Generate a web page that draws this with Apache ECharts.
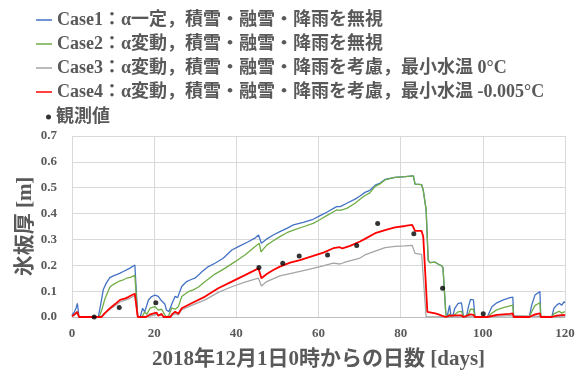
<!DOCTYPE html>
<html>
<head>
<meta charset="utf-8">
<script src="https://cdn.jsdelivr.net/npm/echarts@6/dist/echarts.min.js"></script>
<style>
  html, body { margin: 0; padding: 0; background: #fff; }
  #chart { width: 582px; height: 371px; }
</style>
</head>
<body>
<div id="chart"></div>
<script>
// Series names shown in the legend
const seriesNames = [
  'Case1：α一定，積雪・融雪・降雨を無視',
  'Case2：α変動，積雪・融雪・降雨を無視',
  'Case3：α変動，積雪・融雪・降雨を考慮，最小水温 0°C',
  'Case4：α変動，積雪・融雪・降雨を考慮，最小水温 -0.005°C'
];
const obsName = '観測値';

// Ice thickness [m] against elapsed days, one [day, value] list per case
const case1 = [
  [0,0.008],[0.6,0.02],[1.0,0.035],[1.3,0.053],[1.7,0],[6.4,0],[7.0,0.05],[7.6,0.105],[8.3,0.13],
  [9.2,0.152],[10.2,0.16],[11.0,0.165],[11.7,0.17],[12.5,0.176],[13.3,0.182],[14.2,0.19],[15.3,0.201],
  [15.7,0.2],[16.0,0],[16.6,0],[17.2,0.034],[17.7,0.02],[18.6,0.066],[19.4,0.079],[20.2,0.085],
  [21.0,0.08],[21.6,0.066],[22.0,0.07],[22.6,0.05],[23.0,0.027],[23.6,0.02],[24.3,0.05],[25.1,0.08],
  [25.7,0.075],[26.7,0.118],[27.9,0.137],[29.0,0.145],[29.9,0.15],[30.8,0.162],[31.6,0.175],
  [33.2,0.195],[34.8,0.208],[36.8,0.227],[38.9,0.259],[40.5,0.272],[42.9,0.291],[44.5,0.305],
  [45.4,0.317],[45.8,0.318],[46.1,0.285],[47.4,0.302],[49.0,0.317],[50.6,0.33],[52.3,0.343],
  [53.9,0.356],[56.3,0.366],[58.7,0.378],[60.4,0.392],[62.0,0.405],[64.4,0.427],[65.3,0.427],
  [66.9,0.44],[68.9,0.456],[70.1,0.468],[71.3,0.482],[72.5,0.49],[73.8,0.51],[75.0,0.518],
  [76.2,0.532],[78.6,0.54],[81.1,0.543],[83.1,0.546],[83.5,0.514],[85.1,0.512],[85.5,0.49],
  [86.2,0.414],[86.7,0.22],[87.1,0.21],[88.4,0.212],[89.2,0.204],[90.0,0.198],[90.3,0.19],
  [91.0,0.01],[91.3,0],[91.9,0.045],[92.2,0.01],[92.6,0],[93.2,0.034],[94.0,0.053],[94.8,0.055],
  [95.3,0],[96.0,0],[96.5,0.04],[97.0,0.068],[97.7,0.066],[98.1,0],[101.1,0],[102.2,0.04],
  [103.4,0.055],[105.0,0.066],[106.6,0.075],[107.3,0.077],[107.5,0],[111.3,0],[111.9,0.046],
  [112.7,0.085],[113.9,0.098],[114.1,0],[116.8,0],[117.3,0.034],[118.0,0.046],[118.6,0.053],
  [119.2,0.046],[119.8,0.059],[120,0.055]
];
const case2 = [
  [0,0.003],[0.6,0.01],[1.3,0.02],[1.7,0],[6.6,0],[7.3,0.03],[8.0,0.07],[9.25,0.117],[10.2,0.127],
  [11.7,0.14],[12.5,0.144],[13.3,0.15],[14.2,0.153],[15.3,0.161],[15.7,0.162],[16.0,0],[16.9,0],
  [17.3,0.008],[17.7,0.02],[18.2,0.01],[19.0,0.034],[20.2,0.04],[21.0,0.027],[21.8,0.03],
  [22.6,0.008],[23.0,0],[23.5,0.005],[24.3,0.035],[25.1,0.03],[25.9,0.04],[26.7,0.079],[28.3,0.098],
  [29.5,0.105],[30.7,0.115],[32.4,0.137],[34.8,0.166],[37.2,0.188],[39.7,0.214],[42.1,0.24],
  [44.5,0.272],[45.6,0.285],[46.0,0.252],[47.4,0.278],[49.0,0.295],[50.6,0.311],[52.3,0.326],
  [53.9,0.336],[56.3,0.349],[58.7,0.362],[60.4,0.377],[62.0,0.392],[64.4,0.414],[65.3,0.412],
  [66.9,0.42],[68.9,0.44],[70.1,0.455],[71.3,0.47],[72.5,0.48],[73.8,0.505],[75.0,0.515],
  [76.2,0.53],[78.6,0.54],[81.1,0.543],[83.1,0.546],[83.5,0.514],[85.1,0.512],[85.5,0.49],
  [86.2,0.414],[86.7,0.22],[87.1,0.21],[88.4,0.212],[89.2,0.204],[90.0,0.198],[90.3,0.19],
  [91.0,0.01],[91.3,0],[91.9,0.012],[92.2,0],[93.2,0.01],[94.0,0.02],[94.8,0.022],[95.3,0],
  [96.5,0.01],[97.0,0.03],[97.7,0.03],[98.1,0],[101.1,0],[102.2,0.015],[103.4,0.028],[105.0,0.036],
  [106.6,0.043],[107.3,0.046],[107.5,0],[111.3,0],[111.9,0.02],[112.7,0.045],[113.9,0.055],
  [114.1,0],[116.8,0],[117.3,0.012],[118.0,0.018],[118.6,0.022],[119.2,0.015],[119.8,0.02],[120,0.02]
];
const case3 = [
  [0,0.002],[1.3,0.015],[1.7,0],[7.0,0],[7.6,0.01],[9.25,0.03],[11.7,0.058],[13.8,0.07],
  [15.3,0.083],[15.7,0.085],[16.0,0],[19.0,0.003],[20.6,0.01],[21.0,0.003],[22.0,0.005],[22.6,0],
  [24.3,0.005],[25.1,0.013],[25.9,0.008],[26.7,0.028],[29.1,0.045],[32.4,0.066],[35.6,0.095],
  [38.9,0.117],[42.1,0.135],[45.4,0.15],[45.8,0.152],[46.1,0.12],[47.4,0.137],[50.6,0.159],
  [53.9,0.171],[57.1,0.182],[60.4,0.195],[63.6,0.208],[65.2,0.205],[66.9,0.214],[70.1,0.228],
  [71.3,0.24],[73.8,0.255],[76.2,0.268],[78.6,0.273],[81.1,0.275],[82.8,0.277],[83.5,0.246],
  [85.1,0.242],[86.2,0],[101.5,0],[104.0,0.003],[107.3,0.005],[107.5,0],[120,0]
];
const case4 = [
  [0,0.003],[0.6,0.01],[1.3,0.02],[1.7,0],[7.2,0],[8.0,0.015],[9.25,0.034],[10.5,0.05],[11.7,0.066],
  [13.0,0.072],[13.8,0.078],[14.6,0.085],[15.3,0.09],[15.7,0.09],[16.0,0],[18.0,0],[19.0,0.01],
  [20.6,0.017],[21.0,0.005],[21.8,0.012],[22.3,0],[24.0,0],[24.3,0.01],[25.1,0.02],[25.9,0.013],
  [26.7,0.034],[29.1,0.053],[32.4,0.079],[35.6,0.111],[38.9,0.137],[42.1,0.162],[45.4,0.188],
  [45.8,0.19],[46.1,0.15],[47.4,0.166],[49.0,0.182],[50.6,0.195],[53.1,0.21],[55.5,0.22],
  [58.7,0.236],[61.2,0.249],[63.6,0.266],[65.2,0.27],[65.8,0.265],[67.7,0.275],[70.1,0.292],
  [71.3,0.302],[73.8,0.324],[76.2,0.336],[78.6,0.347],[81.1,0.352],[82.8,0.356],[83.5,0.333],
  [85.1,0.333],[85.5,0.31],[86.5,0.02],[88.4,0.014],[89.2,0.01],[90.0,0.005],[91.0,0],[91.9,0.005],
  [92.2,0],[94.0,0.006],[94.8,0.006],[95.3,0],[97.0,0.01],[97.7,0.008],[98.1,0],[101.1,0],
  [103.4,0.008],[106.6,0.012],[107.3,0.014],[107.5,0],[111.3,0],[112.7,0.01],[113.9,0.014],
  [114.1,0],[116.8,0],[118.0,0.005],[119.8,0.008],[120,0.006]
];
// Measured thickness
const observed = [
  [5.4,0.0],[11.5,0.037],[20.4,0.055],[45.5,0.191],[51.3,0.208],[55.3,0.236],[62.2,0.24],
  [69.3,0.277],[74.4,0.362],[83.2,0.322],[90.2,0.111],[100.1,0.013]
];

const caseColors = ['#4472C4', '#70AD47', '#A5A5A5', '#FF0000'];
const caseWidths = [1.3, 1.3, 1.3, 1.8];
const caseData = [case1, case2, case3, case4];

const txtFont = "'Liberation Serif','Noto Sans CJK JP',serif";
const grey = '#595959';
const legendText = { fontFamily: txtFont, fontWeight: 'bold', fontSize: 18, color: grey, lineHeight: 18 };

const chart = echarts.init(document.getElementById('chart'), null, { renderer: 'canvas' });

const lineSeries = caseData.map((d, i) => ({
  name: seriesNames[i],
  type: 'line',
  data: d,
  symbol: 'none',
  smooth: false,
  lineStyle: { color: caseColors[i], width: caseWidths[i] },
  itemStyle: { color: caseColors[i] },
  emphasis: { disabled: true },
  animation: false,
  z: 2 + i
}));

chart.setOption({
  animation: false,
  backgroundColor: '#fff',
  textStyle: { fontFamily: txtFont },
  grid: { left: 72, right: 17, top: 136, bottom: 54, containLabel: false },
  legend: [
    {
      data: seriesNames.map((n, i) => ({ name: n, icon: 'rect', itemStyle: { color: caseColors[i] } })),
      orient: 'vertical',
      left: 36, top: 11, padding: 0,
      itemWidth: 16, itemHeight: 1.5, itemGap: 6,
      selectedMode: false,
      textStyle: legendText
    },
    {
      data: [{ name: obsName, icon: 'circle' }],
      orient: 'vertical',
      left: 46, top: 108, padding: 0,
      itemWidth: 5, itemHeight: 5,
      selectedMode: false,
      textStyle: legendText
    }
  ],
  xAxis: {
    type: 'value', min: 0, max: 120, interval: 20,
    name: '2018年12月1日0時からの日数 [days]',
    nameLocation: 'middle', nameGap: 32, nameMoveOverlap: false,
    nameTextStyle: { fontFamily: txtFont, fontWeight: 'bold', fontSize: 21, color: grey },
    axisLine: { show: true, onZero: false, lineStyle: { color: '#BFBFBF', width: 1 } },
    axisTick: { show: false },
    axisLabel: { margin: 10, fontFamily: txtFont, fontWeight: 'bold', fontSize: 13, color: grey },
    splitLine: { show: true, lineStyle: { color: '#D9D9D9', width: 1 } }
  },
  yAxis: {
    type: 'value', min: 0, max: 0.7, interval: 0.1,
    name: '氷板厚 [m]',
    nameLocation: 'middle', nameGap: 36, nameMoveOverlap: false,
    nameTextStyle: { fontFamily: txtFont, fontWeight: 'bold', fontSize: 21, color: grey },
    axisLine: { show: false },
    axisTick: { show: false },
    axisLabel: { margin: 15, fontFamily: txtFont, fontWeight: 'bold', fontSize: 13, color: grey,
      formatter: v => v.toFixed(1) },
    splitLine: { show: true, lineStyle: { color: '#D9D9D9', width: 1 } }
  },
  series: lineSeries.concat([{
    name: obsName,
    type: 'scatter',
    data: observed,
    symbol: 'circle',
    symbolSize: 5,
    itemStyle: { color: '#000' },
    emphasis: { disabled: true },
    z: 10
  }])
});
</script>
</body>
</html>
